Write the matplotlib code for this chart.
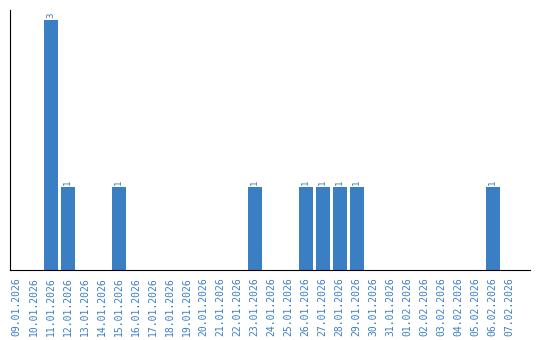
import matplotlib
matplotlib.use("Agg")
import matplotlib.pyplot as plt
import numpy as np
from datetime import date, timedelta

start = date(2026, 1, 9)
dates = [(start + timedelta(days=i)).strftime("%d.%m.%Y") for i in range(30)]
counts_by_day = {
    "11.01.2026": 3, "12.01.2026": 1, "15.01.2026": 1, "23.01.2026": 1,
    "26.01.2026": 1, "27.01.2026": 1, "28.01.2026": 1, "29.01.2026": 1,
    "06.02.2026": 1,
}
counts = [counts_by_day.get(d, 0) for d in dates]

blue = "#3a7ec4"
fig = plt.figure(figsize=(5.4, 3.4), dpi=100)
ax = fig.add_axes([0.0185, 0.206, 0.963, 0.765])
x = np.arange(len(dates))
bars = ax.bar(x, counts, width=0.82, color=blue)
for xi, c in zip(x, counts):
    if c > 0:
        ax.text(xi, c + 0.02, str(c), rotation=90, ha="center", va="bottom",
                color=blue, fontsize=6.5, family="DejaVu Sans Mono")

ax.set_xlim(-0.4, 30.2)
ax.set_ylim(0, 3.12)
ax.set_xticks(x)
ax.set_xticklabels(dates, rotation=90, color=blue, fontsize=7, family="DejaVu Sans Mono")
ax.tick_params(axis="x", length=0, pad=5)
ax.set_yticks([])
ax.spines["top"].set_visible(False)
ax.spines["right"].set_visible(False)
fig.savefig("out.png")
